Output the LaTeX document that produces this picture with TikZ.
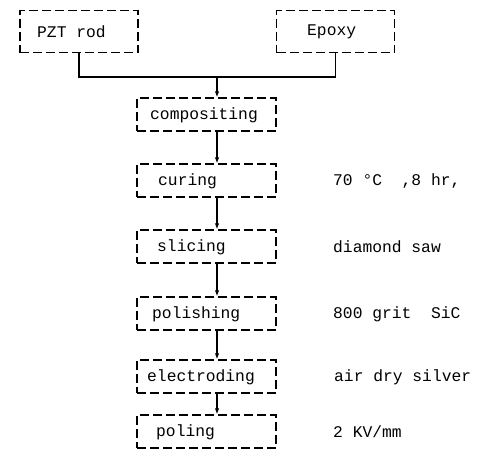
\documentclass[tikz,border=0pt]{standalone}
\usepackage{fontspec}
\newfontfamily\tyfont{Liberation Mono}
\usetikzlibrary{arrows.meta}
\begin{document}
\begin{tikzpicture}[x=1pt,y=-1pt,
  box/.style={draw=black, line width=1.3pt, dash pattern=on 9pt off 4pt, minimum width=139pt, minimum height=33pt, inner sep=0pt},
  topbox/.style={box, minimum width=118pt, minimum height=42pt},
  txt/.style={font=\tyfont\fontsize{16.3}{17}\selectfont, inner sep=0pt, anchor=west},
  wire/.style={draw=black, line width=1.3pt},
  arr/.style={wire, -{Latex[length=6pt,width=4.5pt]}}]
\useasboundingbox (0,0) rectangle (478,472);
% top boxes
\node[topbox] (pzt) at (79,31.5) {};
\node[topbox] (epoxy) at (335.5,31.5) {};
\node[txt] (pztt) at (37,32) {PZT rod};
\node[txt] (epoxyt) at (307,32) {Epoxy};
% column boxes
\node[box] (comp) at (206.5,114.5) {};
\node[box] (cur) at (206.5,180.5) {};
\node[box] (slic) at (206.5,246.5) {};
\node[box] (pol) at (206.5,313.5) {};
\node[box] (elec) at (206.5,376.5) {};
\node[box] (pole) at (206.5,431.5) {};
\node[txt] (compt) at (150,115) {compositing};
\node[txt] (curt) at (158,181) {curing};
\node[txt] (slict) at (157,247) {slicing};
\node[txt] (polt) at (152,314) {polishing};
\node[txt] (elect) at (147,377) {electroding};
\node[txt] (polet) at (156,432) {poling};
% right labels
\node[txt] (r1) at (333,181) {70 °C\ \ ,8 hr,};
\node[txt] (r2) at (333,247) {diamond saw};
\node[txt] (r3) at (333,314) {800 grit\ \ SiC};
\node[txt] (r4) at (334,377) {air dry silver};
\node[txt] (r5) at (333,432) {2 KV/mm};
% connectors
\coordinate (j) at (217,77);
\draw[wire] (pzt.south) |- (j);
\draw[wire] (epoxy.south) |- (j);
\draw[arr] (j) -- (comp.north -| j);
\draw[arr] (comp.south -| j) -- (cur.north -| j);
\draw[arr] (cur.south -| j) -- (slic.north -| j);
\draw[arr] (slic.south -| j) -- (pol.north -| j);
\draw[arr] (pol.south -| j) -- (elec.north -| j);
\draw[arr] (elec.south -| j) -- (pole.north -| j);
\end{tikzpicture}
\end{document}
